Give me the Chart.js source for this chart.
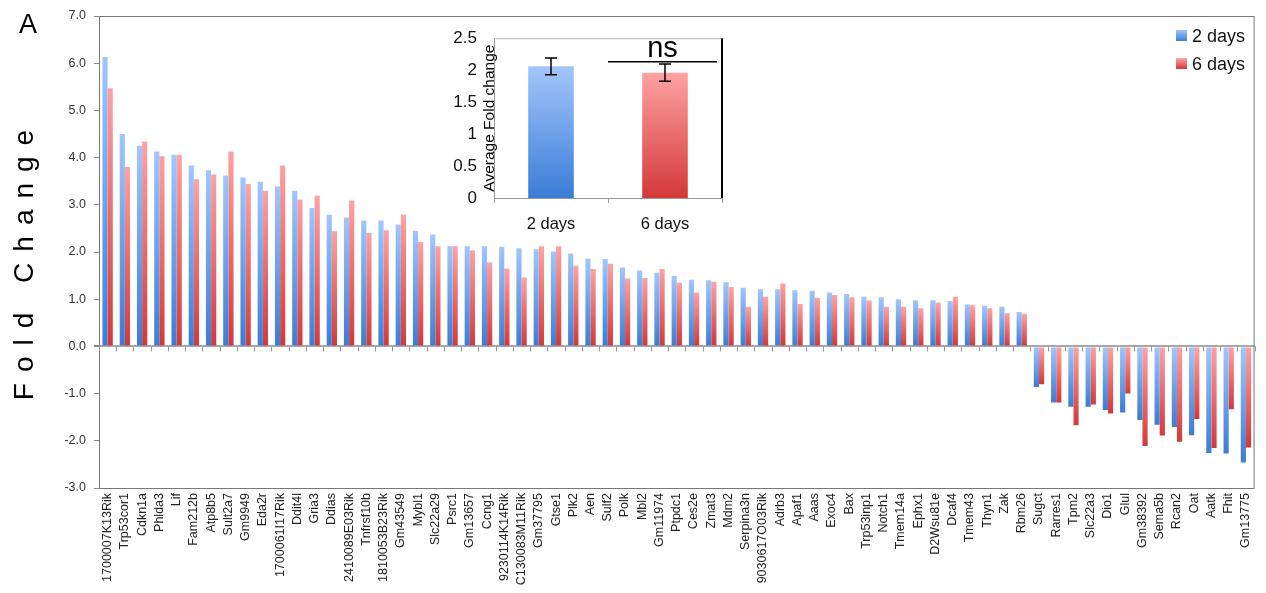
<!DOCTYPE html>
<html lang="en">
<head>
    <meta charset="UTF-8">
    <title>Fold Change</title>
    <style>
        body { margin: 0; background: #fff; font-family: 'Liberation Sans', Arial, sans-serif; }
        .wrap { position: relative; width: 1266px; height: 593px; }
        #mainChart { position: absolute; left: 0; top: 0; }
        #insetChart { position: absolute; left: 430px; top: 11px; }
        .legend { position: absolute; left: 1176px; top: 24px; font-size: 18px; color: #111; }
        .legend div { height: 28px; line-height: 24px; }
        .legend span { display: inline-block; width: 11px; height: 11px; margin-right: 5px; vertical-align: 1px; }
    </style>
</head>
<body>
<div class="wrap">
    <canvas id="mainChart" width="1266" height="593"></canvas>
    <canvas id="insetChart" width="310" height="234"></canvas>
    <div class="legend">
        <div><span style="background: linear-gradient(#9fc4fb, #3d7fd8)"></span>2 days</div>
        <div><span style="background: linear-gradient(#ffa3a3, #d63b3b)"></span>6 days</div>
    </div>
</div>

<script src="https://cdn.jsdelivr.net/npm/chart.js"></script>
<script>
    const genes = ['1700007K13Rik', 'Trp53cor1', 'Cdkn1a', 'Phlda3', 'Lif', 'Fam212b', 'Atp8b5', 'Sult2a7', 'Gm9949', 'Eda2r',
        '1700061I17Rik', 'Ddit4l', 'Gria3', 'Ddias', '2410089E03Rik', 'Tnfrsf10b', '1810053B23Rik', 'Gm43549', 'Mybl1', 'Slc22a29',
        'Psrc1', 'Gm13657', 'Ccng1', '9230114K14Rik', 'C130083M11Rik', 'Gm37795', 'Gtse1', 'Plk2', 'Aen', 'Sulf2',
        'Polk', 'Mbl2', 'Gm11974', 'Ptpdc1', 'Ces2e', 'Zmat3', 'Mdm2', 'Serpina3n', '9030617O03Rik', 'Adrb3',
        'Apaf1', 'Aaas', 'Exoc4', 'Bax', 'Trp53inp1', 'Notch1', 'Tmem14a', 'Ephx1', 'D2Wsu81e', 'Dcaf4',
        'Tmem43', 'Thyn1', 'Zak', 'Rbm26', 'Sugct', 'Rarres1', 'Tpm2', 'Slc22a3', 'Dio1', 'Glul',
        'Gm38392', 'Sema5b', 'Rcan2', 'Oat', 'Aatk', 'Fhit', 'Gm13775'];

    const days2 = [6.13, 4.50, 4.25, 4.13, 4.06, 3.83, 3.73, 3.62, 3.58, 3.49,
        3.39, 3.30, 2.93, 2.79, 2.73, 2.67, 2.67, 2.58, 2.45, 2.37,
        2.12, 2.12, 2.12, 2.11, 2.08, 2.06, 2.01, 1.97, 1.86, 1.85,
        1.67, 1.61, 1.56, 1.49, 1.41, 1.40, 1.36, 1.24, 1.21, 1.21,
        1.19, 1.18, 1.14, 1.11, 1.05, 1.04, 1.00, 0.98, 0.98, 0.96,
        0.89, 0.86, 0.84, 0.73, -0.86, -1.19, -1.28, -1.28, -1.35, -1.40,
        -1.56, -1.66, -1.71, -1.88, -2.26, -2.27, -2.46];

    const days6 = [5.47, 3.80, 4.34, 4.03, 4.06, 3.54, 3.64, 4.13, 3.44, 3.30,
        3.83, 3.11, 3.19, 2.44, 3.09, 2.40, 2.46, 2.79, 2.21, 2.12,
        2.12, 2.03, 1.78, 1.65, 1.46, 2.12, 2.12, 1.71, 1.64, 1.75,
        1.44, 1.45, 1.64, 1.35, 1.14, 1.37, 1.26, 0.84, 1.05, 1.33,
        0.90, 1.03, 1.09, 1.04, 0.97, 0.84, 0.84, 0.81, 0.93, 1.05,
        0.87, 0.81, 0.70, 0.69, -0.80, -1.19, -1.67, -1.23, -1.42, -1.00,
        -2.11, -1.89, -2.02, -1.54, -2.15, -1.33, -2.14];

    // inset: average fold change with error
    const insetLabels = ['2 days', '6 days'];
    const insetMeans = [2.06, 1.96];
    const insetErrors = [0.13, 0.135];

    const BLUE = ['#a2c6fc', '#3b7cd6'];
    const RED = ['#ffa2a2', '#d43838'];

    // each bar gets its own light-to-dark gradient
    function barFill(colors) {
        return function (c) {
            const chart = c.chart;
            if (c.type !== 'data' || !chart.chartArea) return colors[1];
            const y = chart.scales.y;
            const top = y.getPixelForValue(Math.max(c.raw, 0));
            const bot = y.getPixelForValue(Math.min(c.raw, 0));
            if (bot - top < 1) return colors[1];
            const g = chart.ctx.createLinearGradient(0, top, 0, bot);
            g.addColorStop(0, colors[0]);
            g.addColorStop(1, colors[1]);
            return g;
        };
    }

    const mainDecor = {
        id: 'mainDecor',
        afterDraw(chart) {
            const { ctx, chartArea: a, scales } = chart;
            ctx.save();
            // frame
            ctx.strokeStyle = '#777';
            ctx.lineWidth = 1;
            ctx.strokeRect(a.left + 0.5, a.top + 0.5, a.right - a.left - 1, a.bottom - a.top);
            // category ticks on the zero line
            const y0 = scales.y.getPixelForValue(0);
            ctx.strokeStyle = '#999';
            const half = (scales.x.getPixelForValue(1) - scales.x.getPixelForValue(0)) / 2;
            for (let i = 0; i <= genes.length; i++) {
                const x = Math.round(scales.x.getPixelForValue(i) - half) + 0.5;
                ctx.beginPath();
                ctx.moveTo(x, y0);
                ctx.lineTo(x, y0 + 5);
                ctx.stroke();
            }
            // panel letter
            ctx.fillStyle = '#000';
            ctx.font = '27px "Liberation Sans", Arial, sans-serif';
            ctx.textBaseline = 'alphabetic';
            ctx.fillText('A', 19, 33);
            // spaced-out axis title
            ctx.translate(33, (a.top + a.bottom) / 2 + 13);
            ctx.rotate(-Math.PI / 2);
            ctx.font = '28px "Liberation Sans", Arial, sans-serif';
            const text = 'Fold Change';
            const gap = 11;
            let w = 0;
            for (const ch of text) w += ctx.measureText(ch).width + gap;
            w -= gap;
            let x = -w / 2;
            for (const ch of text) {
                ctx.fillText(ch, x, 0);
                x += ctx.measureText(ch).width + gap;
            }
            ctx.restore();
        }
    };

    new Chart(document.getElementById('mainChart'), {
        type: 'bar',
        data: {
            labels: genes,
            datasets: [
                { label: '2 days', data: days2, backgroundColor: barFill(BLUE), borderWidth: 0 },
                { label: '6 days', data: days6, backgroundColor: barFill(RED), borderWidth: 0 }
            ]
        },
        options: {
            responsive: false,
            animation: false,
            layout: { padding: { left: 0, right: 7, top: 16, bottom: 0 } },
            plugins: { legend: { display: false }, tooltip: { enabled: false } },
            datasets: { bar: { categoryPercentage: 0.6, barPercentage: 1.0 } },
            scales: {
                x: {
                    grid: { display: false, drawTicks: false },
                    border: { display: false },
                    ticks: {
                        autoSkip: false, minRotation: 90, maxRotation: 90, padding: 5,
                        color: '#222', font: { family: 'Liberation Sans', size: 12.5 }
                    },
                    afterFit(scale) { scale.height = 105; }
                },
                y: {
                    min: -3, max: 7,
                    ticks: {
                        stepSize: 1, padding: 8, color: '#333',
                        font: { family: 'Liberation Sans', size: 12.5 },
                        callback: v => v.toFixed(1)
                    },
                    grid: {
                        color: c => c.tick && c.tick.value === 0 ? '#a8a8a8' : 'rgba(0,0,0,0)',
                        lineWidth: c => c.tick && c.tick.value === 0 ? 2 : 1,
                        tickColor: '#888', tickLength: 5
                    },
                    border: { display: false },
                    afterFit(scale) { scale.width = 99; }
                }
            }
        },
        plugins: [mainDecor]
    });

    const insetDecor = {
        id: 'insetDecor',
        afterDatasetsDraw(chart) {
            const { ctx, chartArea: a, scales } = chart;
            const x = scales.x, y = scales.y;
            ctx.save();
            // frame
            ctx.strokeStyle = '#bbb';
            ctx.lineWidth = 1;
            ctx.beginPath();
            ctx.moveTo(a.left, a.top + 0.5);
            ctx.lineTo(a.right, a.top + 0.5);
            ctx.stroke();
            ctx.strokeStyle = '#000';
            ctx.lineWidth = 2;
            ctx.beginPath();
            ctx.moveTo(a.right, a.top);
            ctx.lineTo(a.right, a.bottom);
            ctx.stroke();
            // error bars
            ctx.lineWidth = 1.5;
            insetMeans.forEach((m, i) => {
                const cx = x.getPixelForValue(i);
                const hi = y.getPixelForValue(m + insetErrors[i]);
                const lo = y.getPixelForValue(m - insetErrors[i]);
                ctx.beginPath();
                ctx.moveTo(cx, hi); ctx.lineTo(cx, lo);
                ctx.moveTo(cx - 6, hi); ctx.lineTo(cx + 6, hi);
                ctx.moveTo(cx - 6, lo); ctx.lineTo(cx + 6, lo);
                ctx.stroke();
            });
            // significance
            const x1 = (x.getPixelForValue(0) + x.getPixelForValue(1)) / 2;
            const x2 = a.right - 5;
            const ly = y.getPixelForValue(2.13);
            ctx.beginPath();
            ctx.moveTo(x1, ly); ctx.lineTo(x2, ly);
            ctx.stroke();
            ctx.fillStyle = '#000';
            ctx.font = '29px "Liberation Sans", Arial, sans-serif';
            ctx.textAlign = 'center';
            ctx.textBaseline = 'alphabetic';
            ctx.fillText('ns', (x1 + x2) / 2, ly - 5);
            // axis title overlapping the axis
            ctx.translate(a.left - 4, (a.top + a.bottom) / 2);
            ctx.rotate(-Math.PI / 2);
            ctx.font = '15.5px "Liberation Sans", Arial, sans-serif';
            ctx.textBaseline = 'middle';
            ctx.fillText('Average Fold change', 0, 0);
            ctx.restore();
        }
    };

    function insetFill(c) {
        const chart = c.chart;
        const cols = c.dataIndex === 0 ? BLUE : RED;
        if (c.type !== 'data' || !chart.chartArea) return cols[1];
        const y = chart.scales.y;
        const g = chart.ctx.createLinearGradient(0, y.getPixelForValue(c.raw), 0, y.getPixelForValue(0));
        g.addColorStop(0, cols[0]);
        g.addColorStop(1, cols[1]);
        return g;
    }

    new Chart(document.getElementById('insetChart'), {
        type: 'bar',
        data: {
            labels: insetLabels,
            datasets: [{ data: insetMeans, backgroundColor: insetFill, borderWidth: 0, barPercentage: 0.4, categoryPercentage: 1.0 }]
        },
        options: {
            responsive: false,
            animation: false,
            layout: { padding: { left: 0, right: 18, top: 0, bottom: 0 } },
            plugins: { legend: { display: false }, tooltip: { enabled: false } },
            scales: {
                x: {
                    grid: { drawOnChartArea: false, color: '#999', tickLength: 5 },
                    border: { color: '#999' },
                    ticks: { padding: 12, color: '#111', font: { family: 'Liberation Sans', size: 16.5 } },
                    afterFit(scale) { scale.height = 47; }
                },
                y: {
                    min: 0, max: 2.5,
                    grid: { display: false, drawTicks: false },
                    border: { color: '#999' },
                    ticks: {
                        stepSize: 0.5, padding: 17, color: '#111',
                        font: { family: 'Liberation Sans', size: 17 },
                        callback: v => String(v)
                    },
                    afterFit(scale) { scale.width = 64; }
                }
            }
        },
        plugins: [insetDecor]
    });
</script>
</body>
</html>
